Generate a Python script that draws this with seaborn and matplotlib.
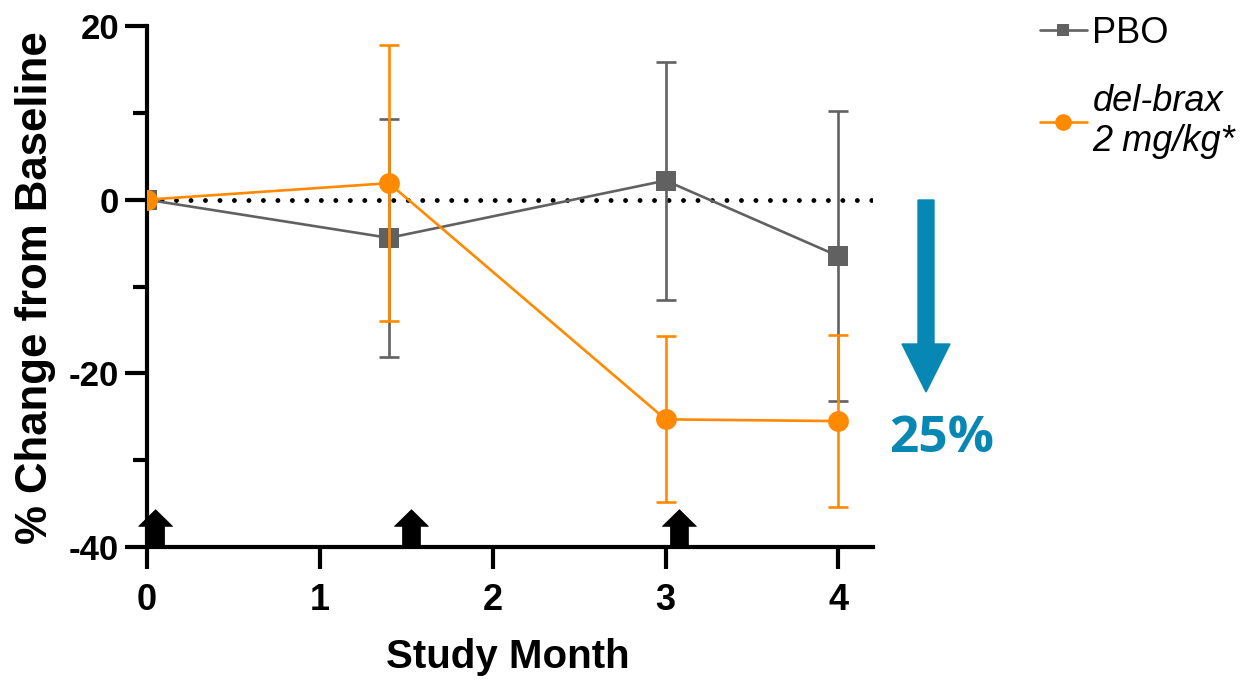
import numpy as np
import pandas as pd
import matplotlib
matplotlib.use("Agg")
import matplotlib.pyplot as plt
import seaborn as sns
from matplotlib.patches import FancyArrow
from matplotlib.lines import Line2D
from matplotlib.transforms import IdentityTransform
from matplotlib import font_manager as fm

# ---------------- data ----------------
months = [0, 1.4, 3, 4]
pbo_mean = [0, -4.4, 2.2, -6.5]
pbo_sem = [0, 13.7, 13.7, 16.7]
drug_mean = [0, 1.9, -25.3, -25.5]
drug_sem = [0, 15.9, 9.55, 9.95]
dose_months = [0.05, 1.53, 3.08]
series_labels = ["PBO", "del-brax\n2 mg/kg*"]
y_major = [-40, -20, 0, 20]
y_minor = [-30, -10, 10]
x_ticks = [0, 1, 2, 3, 4]
reduction_text = "25%"

GREY = "#616161"
ORANGE = "#FF8A00"
BLUE = "#0787B4"

sns.set_style("ticks")
avail = {f.name for f in fm.fontManager.ttflist}
NARROW = "Liberation Sans Narrow" if "Liberation Sans Narrow" in avail else "Liberation Sans"
plt.rcParams["font.family"] = ["Liberation Sans", "DejaVu Sans"]
plt.rcParams.update({"text.color": "black", "axes.labelcolor": "black",
                     "xtick.color": "black", "ytick.color": "black",
                     "axes.unicode_minus": False})

fig = plt.figure(figsize=(12.48, 6.82), dpi=100)
ax = fig.add_axes([147 / 1248, 1 - 547 / 682, (873 - 147) / 1248, (547 - 26) / 682])

df_pbo = pd.DataFrame({"month": months, "value": pbo_mean})
df_drug = pd.DataFrame({"month": months, "value": drug_mean})

# reference dotted line at 0
ax.plot([0, 4.2], [0, 0], color="black", lw=3.5, linestyle=(0, (0.01, 2.97)),
        dash_capstyle="round", zorder=1)

# PBO
ax.errorbar(months, pbo_mean, yerr=pbo_sem, fmt="none", ecolor=GREY, elinewidth=1.9,
            capsize=7.5, capthick=1.9, zorder=2)
sns.lineplot(data=df_pbo, x="month", y="value", ax=ax, color=GREY, marker="s",
             markersize=14, markeredgewidth=0, linewidth=1.9, zorder=3)
# del-brax
ax.errorbar(months, drug_mean, yerr=drug_sem, fmt="none", ecolor=ORANGE, elinewidth=1.9,
            capsize=7.5, capthick=1.9, zorder=4)
sns.lineplot(data=df_drug, x="month", y="value", ax=ax, color=ORANGE, marker="o",
             markersize=15, markeredgewidth=0, linewidth=1.9, zorder=5)

ax.set_xlim(0, 4.2)
ax.set_ylim(-40, 20)
ax.set_xticks(x_ticks)
ax.set_yticks(y_major)
ax.set_yticks(y_minor, minor=True)
for s in ["top", "right"]:
    ax.spines[s].set_visible(False)
for s in ["left", "bottom"]:
    ax.spines[s].set_linewidth(3)
    ax.spines[s].set_color("black")
ax.tick_params(axis="both", which="major", width=3, length=16, color="black",
               labelcolor="black")
ax.tick_params(axis="y", which="minor", width=3, length=10, color="black")
ax.tick_params(axis="y", pad=4)
ax.tick_params(axis="x", pad=10)
for lbl in ax.get_yticklabels():
    lbl.set_fontsize(25)
    lbl.set_fontweight("bold")
    lbl.set_family([NARROW, "Liberation Sans"])
for lbl in ax.get_xticklabels():
    lbl.set_fontsize(26)
    lbl.set_fontweight("bold")
    lbl.set_family([NARROW, "Liberation Sans"])

ax.set_ylabel("% Change from Baseline", fontsize=31.5, fontweight="bold", color="black")
ax.yaxis.set_label_coords(-0.125, 0.497)
ax.set_xlabel("Study Month", fontsize=29, fontweight="bold", color="black",
              family=[NARROW, "Liberation Sans"])
ax.xaxis.set_label_coords(0.497, -0.175)

# dosing arrows
for m in dose_months:
    ax.annotate("", xy=(m, -35.7), xytext=(m, -40),
                arrowprops=dict(arrowstyle="simple,head_length=1.2,head_width=2.45,tail_width=1.3",
                                fc="black", ec="black", lw=0.5, shrinkA=0, shrinkB=0,
                                mutation_scale=10),
                annotation_clip=False, zorder=6)

# legend
handles = [
    Line2D([0], [0], color=GREY, lw=1.9, marker="s", markersize=9, markeredgewidth=0),
    Line2D([0], [0], color=ORANGE, lw=1.9, marker="o", markersize=12, markeredgewidth=0),
]
leg = ax.legend(handles, series_labels, loc="upper left",
                bbox_to_anchor=(1040 / 1248, 1 - 16 / 682), bbox_transform=fig.transFigure,
                frameon=False, fontsize=26, handlelength=1.3, handletextpad=0.15,
                borderpad=0, borderaxespad=0, labelspacing=0.9)
for t in leg.get_texts():
    t.set_color("black")
leg.get_texts()[1].set_style("italic")

# blue arrow + text
arrow = FancyArrow(926, 682 - 200, 0, -192, width=16, head_width=48, head_length=48,
                   length_includes_head=True, color=BLUE, transform=IdentityTransform())
fig.add_artist(arrow)
fig.text(889 / 1248, 1 - 452 / 682, reduction_text, fontsize=37, fontweight="bold",
         color=BLUE, family=["Open Sans", "DejaVu Sans"], ha="left", va="baseline")

fig.savefig("out.png", dpi=100)
